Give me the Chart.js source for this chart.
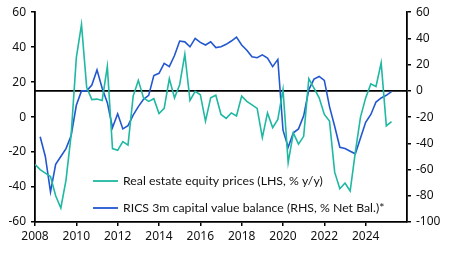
<!DOCTYPE html>
<html>
<head>
<meta charset="utf-8">
<script src="https://cdn.jsdelivr.net/npm/chart.js@4.4.1/dist/chart.umd.min.js"></script>
<style>
  html, body { margin: 0; padding: 0; background: #fff; }
  #wrap { width: 450px; height: 254px; }
</style>
</head>
<body>
<div id="wrap"><canvas id="chart" width="450" height="254"></canvas></div>
<script>
// quarterly observations, 2008Q1 - 2025Q2
var quarters = [
  '2008Q1','2008Q2','2008Q3','2008Q4','2009Q1','2009Q2','2009Q3','2009Q4',
  '2010Q1','2010Q2','2010Q3','2010Q4','2011Q1','2011Q2','2011Q3','2011Q4',
  '2012Q1','2012Q2','2012Q3','2012Q4','2013Q1','2013Q2','2013Q3','2013Q4',
  '2014Q1','2014Q2','2014Q3','2014Q4','2015Q1','2015Q2','2015Q3','2015Q4',
  '2016Q1','2016Q2','2016Q3','2016Q4','2017Q1','2017Q2','2017Q3','2017Q4',
  '2018Q1','2018Q2','2018Q3','2018Q4','2019Q1','2019Q2','2019Q3','2019Q4',
  '2020Q1','2020Q2','2020Q3','2020Q4','2021Q1','2021Q2','2021Q3','2021Q4',
  '2022Q1','2022Q2','2022Q3','2022Q4','2023Q1','2023Q2','2023Q3','2023Q4',
  '2024Q1','2024Q2','2024Q3','2024Q4','2025Q1','2025Q2'
];
// Real estate equity prices, % y/y (LHS)
var equityPrices = [
  -27, -30, -32, -34, -45, -52, -36, -10,
  34, 53, 17, 10, 10.3, 9.5, 29, -18,
  -19, -14, -16, 12, 21, 11, 9, 10.5,
  2, 5, 22, 11, 18.5, 36, 9.5, 14.7,
  12.8, -2.3, 11, 12.5, 1.5, -0.7, 2.4, 0.6,
  12, 9, 7, 5, -11.7, 2.4, -6, -1.3,
  15.7, -26, -9, -15.5, -11, 22, 16.6, 11,
  1.5, -2.3, -31.5, -41, -37.7, -42.3, -20, 0,
  11, 19, 17.5, 31, -5, -2.6
];
// RICS 3m capital value balance, % net balance (RHS)
var ricsBalance = [
  null, -35, -50, -77, -56, -50, -44, -34,
  -11, 0, 0, 4.5, 16, 2, -9, -28,
  -17.5, -29, -26.5, -18.5, -12, -6.5, -3.4, 11.7,
  13.4, 21, 18.5, 27, 38, 37.4, 33.6, 40,
  37, 35, 37.4, 33, 33.6, 35.5, 38, 41,
  35, 31, 26, 25.3, 27.5, 25, 18.5, 24,
  -30, -43, -32, -29, -19, 1, 9, 11,
  8, -12, -27, -43, -44, -46, -48, -36,
  -24, -18, -8.5, -5.4, -3.4, -0.5
];
var yearTicks = [2008, 2010, 2012, 2014, 2016, 2018, 2020, 2022, 2024];
var xRange = [2008, 2026];
var leftRange = [-60, 60];
var rightRange = [-100, 60];
var seriesNames = ['Real estate equity prices (LHS, % y/y)', 'RICS 3m capital value balance (RHS, % Net Bal.)*'];

var tealColor = '#1fb8a2';
var blueColor = '#2257d0';
var fontFamily = "'Noto Sans', sans-serif";
var legendFamily = "Lato, sans-serif";

function quarterToYear(q) {
  return Number(q.slice(0, 4)) + (Number(q.slice(5)) - 1) / 4;
}
function toPoints(values) {
  return quarters.map(function(q, i) { return { x: quarterToYear(q), y: values[i] }; })
    .filter(function(p) { return p.y !== null; });
}

// black line at zero on the right hand axis
var zeroLine = {
  id: 'zeroLine',
  beforeDatasetsDraw: function(chart) {
    var ctx = chart.ctx, area = chart.chartArea;
    var y = chart.scales.y1.getPixelForValue(0);
    ctx.save();
    ctx.strokeStyle = '#000';
    ctx.lineWidth = 1.8;
    ctx.beginPath();
    ctx.moveTo(area.left, y);
    ctx.lineTo(area.right, y);
    ctx.stroke();
    ctx.restore();
  }
};

// legend sits inside the plot, lower middle
var innerLegend = {
  id: 'innerLegend',
  afterDraw: function(chart) {
    var ctx = chart.ctx;
    var rows = [181, 208];
    ctx.save();
    ctx.font = "12.3px " + legendFamily;
    ctx.textBaseline = 'middle';
    chart.data.datasets.forEach(function(ds, i) {
      ctx.strokeStyle = ds.borderColor;
      ctx.lineWidth = 1.8;
      ctx.beginPath();
      ctx.moveTo(93, rows[i]);
      ctx.lineTo(118, rows[i]);
      ctx.stroke();
      ctx.fillStyle = '#111';
      ctx.fillText(ds.label, 123, rows[i]);
    });
    ctx.restore();
  }
};

var axisGrid = { display: true, drawOnChartArea: false, drawTicks: true, tickLength: 4, color: '#000', lineWidth: 1.5 };
var axisBorder = { display: true, color: '#000', width: 1.8 };
var tickFont = { family: fontFamily, size: 12 };

var ctx = document.getElementById('chart').getContext('2d');
var chart = new Chart(ctx, {
  type: 'line',
  data: {
    datasets: [{
      label: seriesNames[0],
      data: toPoints(equityPrices),
      yAxisID: 'y',
      borderColor: tealColor,
      borderWidth: 1.6,
      pointRadius: 0,
      tension: 0
    }, {
      label: seriesNames[1],
      data: toPoints(ricsBalance),
      yAxisID: 'y1',
      borderColor: blueColor,
      borderWidth: 1.6,
      pointRadius: 0,
      tension: 0
    }]
  },
  options: {
    responsive: false,
    animation: false,
    devicePixelRatio: 1,
    layout: { padding: { top: 10, left: 0, right: 0, bottom: 0 } },
    plugins: { legend: { display: false }, tooltip: { enabled: false } },
    scales: {
      x: {
        type: 'linear',
        min: xRange[0],
        max: xRange[1],
        afterBuildTicks: function(scale) {
          scale.ticks = yearTicks.map(function(v) { return { value: v }; });
        },
        afterFit: function(scale) { scale.height = 32; },
        ticks: { color: '#111', font: tickFont, padding: 3, maxRotation: 0,
                 callback: function(v) { return String(v); } },
        grid: axisGrid,
        border: axisBorder
      },
      y: {
        position: 'left',
        min: leftRange[0],
        max: leftRange[1],
        afterFit: function(scale) { scale.width = 35; },
        ticks: { stepSize: 20, color: '#111', font: tickFont, padding: 5 },
        grid: axisGrid,
        border: axisBorder
      },
      y1: {
        position: 'right',
        min: rightRange[0],
        max: rightRange[1],
        afterFit: function(scale) { scale.width = 43; },
        ticks: { stepSize: 20, color: '#111', font: tickFont, padding: 5 },
        grid: axisGrid,
        border: axisBorder
      }
    }
  },
  plugins: [zeroLine, innerLegend]
});
</script>
</body>
</html>
